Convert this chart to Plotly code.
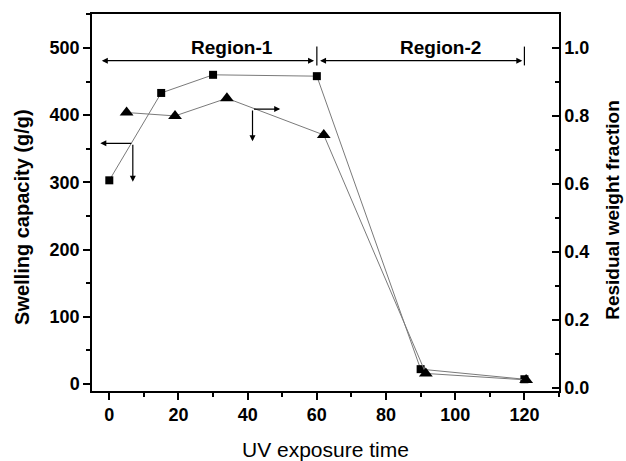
import plotly.graph_objects as go

# Data
time_swelling = [0, 15, 30, 60, 90, 120]
swelling_capacity = [303, 433, 460, 458, 22, 7]
time_residual = [5, 19, 34, 62, 91.5, 120.5]
residual_fraction = [0.81, 0.80, 0.852, 0.744, 0.042, 0.023]

x_ticks = [0, 20, 40, 60, 80, 100, 120]
y_left_ticks = [0, 100, 200, 300, 400, 500]
y_right_ticks = [0.0, 0.2, 0.4, 0.6, 0.8, 1.0]
region_labels = ["Region-1", "Region-2"]

FONT = "Arial, Liberation Sans, sans-serif"

fig = go.Figure()
fig.add_trace(go.Scatter(
    x=time_swelling, y=swelling_capacity, mode="lines+markers",
    line=dict(color="#7a7a7a", width=1),
    marker=dict(symbol="square", size=8, color="black"),
    yaxis="y", showlegend=False))
fig.add_trace(go.Scatter(
    x=time_residual, y=residual_fraction, mode="lines+markers",
    line=dict(color="#7a7a7a", width=1),
    marker=dict(symbol="triangle-up", size=12, color="black"),
    yaxis="y2", showlegend=False))

axis_common = dict(showline=True, linecolor="black", linewidth=1.5,
                   showgrid=False, zeroline=False,
                   tickfont=dict(family=FONT, size=18, color="black", weight="bold"),
                   tickcolor="black", tickwidth=1.5)

fig.update_layout(
    width=626, height=461,
    margin=dict(l=92, r=67, t=14, b=70),
    paper_bgcolor="white", plot_bgcolor="white",
    xaxis=dict(range=[-5, 130], tickvals=x_ticks, ticks="outside", ticklen=7,
               minor=dict(dtick=10, ticks="outside", ticklen=4, tickcolor="black", tickwidth=1.5),
               mirror=True, **axis_common),
    yaxis=dict(range=[-10.5, 550.5], tickvals=y_left_ticks, ticks="outside", ticklen=7,
               minor=dict(dtick=50, ticks="outside", ticklen=4, tickcolor="black", tickwidth=1.5),
               **axis_common),
    yaxis2=dict(range=[-0.0097, 1.1], tickvals=y_right_ticks, tickformat=".1f",
                ticks="inside", ticklen=7, overlaying="y", side="right",
                minor=dict(dtick=0.1, ticks="inside", ticklen=4, tickcolor="black", tickwidth=1.5),
                **axis_common),
)

ann = []
# Axis titles
ann.append(dict(text="UV exposure time", xref="paper", yref="paper", x=0.499, y=-0.156,
                showarrow=False, xanchor="center", yanchor="middle",
                font=dict(family=FONT, size=21, color="black")))
ann.append(dict(text="Swelling capacity (g/g)", xref="paper", yref="paper", x=-0.15, y=0.4615,
                showarrow=False, xanchor="center", yanchor="middle", textangle=-90,
                font=dict(family=FONT, size=20, color="black", weight="bold")))
ann.append(dict(text="Residual weight fraction", xref="paper", yref="paper", x=1.113, y=0.48,
                showarrow=False, xanchor="center", yanchor="middle", textangle=-90,
                font=dict(family=FONT, size=19, color="black", weight="bold")))
# Region labels
ann.append(dict(text=region_labels[0], xref="x", yref="y", x=35.5, y=500, showarrow=False,
                xanchor="center", yanchor="middle",
                font=dict(family=FONT, size=19, color="black", weight="bold")))
ann.append(dict(text=region_labels[1], xref="x", yref="y", x=95.8, y=500, showarrow=False,
                xanchor="center", yanchor="middle",
                font=dict(family=FONT, size=19, color="black", weight="bold")))

def arrow(x0, y0, x1, y1, both=False):
    return dict(xref="x", yref="y", axref="x", ayref="y", x=x1, y=y1, ax=x0, ay=y0,
                text="", showarrow=True, arrowhead=2, arrowsize=1, arrowwidth=1.2,
                arrowcolor="black", standoff=0, startstandoff=0,
                startarrowhead=2, startarrowsize=1,
                arrowside="end+start" if both else "end")

# Region span arrows
ann.append(arrow(-2.6, 481, 59.2, 481, both=True))
ann.append(arrow(60.5, 481, 119.4, 481, both=True))
# Axis pointers
ann.append(arrow(6.8, 358, -2.6, 358))
ann.append(arrow(6.8, 358, 6.8, 301))
ann.append(arrow(41.4, 409, 49.4, 409))
ann.append(arrow(41.4, 409, 41.4, 361))
fig.update_layout(annotations=ann)

# Region boundary bars
for xb in [60, 120]:
    fig.add_shape(type="line", xref="x", yref="y", x0=xb, x1=xb, y0=502, y1=474,
                  line=dict(color="black", width=1.2))

fig.write_html("out.html")
